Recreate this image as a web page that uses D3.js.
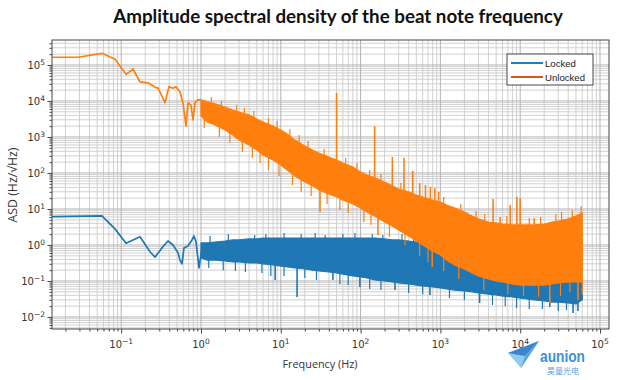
<!DOCTYPE html>
<html><head><meta charset="utf-8">
<script src="https://cdn.jsdelivr.net/npm/d3@7"></script>
<style>body{margin:0;background:#fff}svg{display:block}</style>
</head><body><svg id="c" width="618" height="380"></svg>
<script>
// ---------------- data ----------------
const seriesNames = ["Locked", "Unlocked"];

// low-frequency part (individual points)
const unlockedLowFreq = [0.0136,0.0288,0.0574,0.0836,0.115,0.141,0.172,0.217,0.273,0.289,0.354,0.397,0.446,0.486,0.545,0.595,0.649,0.687,0.749,0.794,0.841,0.917,1.0];
const unlockedLowASD  = [1.64e5,1.64e5,2.11e5,1.44e5,5.5e4,7.6e4,3.4e4,3.2e4,2.34e4,2.3e4,9.0e3,2.5e4,2.25e4,2.5e4,1.8e4,8.8e3,2.0e3,8.8e3,7.7e3,3.0e3,9.0e3,1.07e4,1.07e4];
const lockedLowFreq = [0.0136,0.0574,0.0836,0.115,0.172,0.2296,0.265,0.334,0.386,0.446,0.515,0.545,0.578,0.612,0.687,0.771,0.817,0.866,0.944,1.03];
const lockedLowASD  = [6.1,6.4,2.8,1.11,1.70,0.65,0.46,0.90,1.29,1.0,0.61,0.38,0.30,0.83,0.94,1.38,1.78,1.24,0.23,0.83];

// noisy part: upper / lower envelope of the dense spectrum
const bandFreq = [1,1.2,1.5,2,2.5,3,4,5,6,8,10,12,15,20,25,30,40,50,60,80,100,120,150,200,250,300,400,500,600,800,1e3,1.2e3,1.5e3,2e3,2.5e3,3e3,4e3,5e3,6e3,8e3,1e4,1.2e4,1.5e4,2e4,2.5e4,3e4,4e4,5e4,6e4];
const unlockedUpper = [1.07e4,9.4e3,8.3e3,6.8e3,5.6e3,4.95e3,4.1e3,3.16e3,2.61e3,2.02e3,1.56e3,1.21e3,825,562,435,359,278,230,190,147,107,88,73,56,44,36,30,24.5,21.5,17.8,15.6,12.9,10.7,8.25,6.4,5.3,4.35,4.1,3.83,3.6,3.6,3.6,3.6,3.83,4.35,4.6,5.3,6.4,7.74];
const unlockedLower = [3.83e3,2.61e3,2.15e3,1.56e3,1.14e3,825,600,435,316,230,167,121,83,56,44,34,26,21.5,17.8,13.8,10.7,8.25,6.4,4.35,3.37,2.61,1.78,1.29,1.0,0.68,0.53,0.38,0.28,0.215,0.167,0.138,0.114,0.1,0.094,0.083,0.077,0.077,0.077,0.077,0.083,0.088,0.094,0.094,0.094];
const lockedUpper = [1.14,1.14,1.21,1.29,1.38,1.38,1.47,1.47,1.56,1.56,1.56,1.56,1.56,1.56,1.56,1.56,1.56,1.56,1.56,1.56,1.56,1.56,1.56,1.47,1.38,1.38,1.29,1.21,1.14,1.0,0.88,0.77,0.64,0.495,0.41,0.36,0.30,0.245,0.215,0.19,0.167,0.147,0.138,0.121,0.114,0.107,0.1,0.094,0.088];
const lockedLower = [0.435,0.38,0.38,0.36,0.337,0.337,0.316,0.316,0.30,0.28,0.26,0.245,0.23,0.215,0.2,0.19,0.178,0.167,0.156,0.138,0.129,0.121,0.107,0.1,0.094,0.088,0.083,0.077,0.0726,0.068,0.064,0.06,0.056,0.053,0.05,0.0464,0.043,0.041,0.038,0.036,0.0336,0.0316,0.03,0.028,0.026,0.026,0.0245,0.023,0.03];

// short noise needles sticking out of each band (frequency, extreme value)
const unlockedUpNeedleFreq = [1.35,1.8,2.8,3.5,4.6,7,9,13,17,22,35,65,90,130,180,320,1100,1800,2800,3600,6800,13000,18000,28000,33000,45000,58000];
const unlockedUpNeedleASD  = [1.29e4,1.0e4,7.7e3,6.4e3,5.3e3,3.4e3,2.8e3,1.67e3,1.14e3,774,464,261,190,121,94,53,21.5,13.8,8.8,7.3,6.4,5.6,6.0,7.3,8.25,9.4,12.1];
const unlockedDownNeedleFreq = [1.1,1.7,2.3,3.3,4.4,5.5,7,9.5,14,18,24,38,55,70,110,135,230,360,550,700,1100,1700,3500,7000,11000,17000,32000,42000,60000];
const unlockedDownNeedleASD  = [1.78e3,1.0e3,681,383,261,190,121,83,46,30,23,13.8,9.4,7.7,4.35,3.6,1.67,1.0,0.49,0.337,0.19,0.114,0.056,0.0435,0.038,0.036,0.038,0.049,0.043];
const lockedUpNeedleFreq = [1.3,2.2,4.7,6.5,11,18,27,36,60,85,140,190,330,460,650];
const lockedUpNeedleASD  = [1.78,2.02,1.9,2.02,2.15,2.02,2.15,1.9,2.02,2.15,2.02,1.9,2.02,1.78,1.56];
const lockedDownNeedleFreq = [1.25,1.9,2.7,3.6,5.8,7.5,11,20,28,55,70,130,180,400,600,1300,2000,4500,6500,9000,13000,19000,30000,38000];
const lockedDownNeedleASD  = [0.23,0.2,0.19,0.178,0.167,0.138,0.138,0.121,0.107,0.083,0.077,0.06,0.056,0.0464,0.043,0.0336,0.03,0.0215,0.02,0.0178,0.0167,0.0167,0.0147,0.0156];

// isolated spikes (mains harmonics etc.) and deep dips
const unlockedSpikeFreq = [50,150,250,350,450,550,650,750,850,950,4570,5600,7500,9100,10000,15000];
const unlockedSpikePeak = [1.67e4,2.0e3,278,261,114,53,46,41,38,30,19,6,12.9,21.5,20,5.6];
const unlockedDipFreq = [31,165,790,23500,53000];
const unlockedDipValue = [8.25,1.9,0.245,0.0245,0.03];
const lockedDipFreq = [8.5,16,45,98,270,740,3100,23500,46000,53000];
const lockedDipValue = [0.107,0.036,0.107,0.068,0.056,0.041,0.0245,0.019,0.013,0.0147];

const xMajorTicks = [1e-1,1e0,1e1,1e2,1e3,1e4,1e5];
const xTickExp = ["\u22121","0","1","2","3","4","5"];
const yMajorTicks = [1e-2,1e-1,1e0,1e1,1e2,1e3,1e4,1e5];
const yTickExp = ["\u22122","\u22121","0","1","2","3","4","5"];

// ---------------- chart ----------------
const colors = {Locked:"#1f77b4", Unlocked:"#ff7f0e"};
const legendColors = {Locked:"#1f7ec2", Unlocked:"#d9541e"};
const m = {l:52, r:609, t:40, b:329};
const svg = d3.select("#c");
svg.append("rect").attr("width",618).attr("height",380).attr("fill","#fff");

const x = d3.scaleLog().domain([0.01358, 1.297e5]).range([m.l, m.r]);
const y = d3.scaleLog().domain([4.64e-3, 4.94e5]).range([m.b, m.t]);

function minors(scale){
  const [a,b] = scale.domain(); const out=[];
  for(let e=-4;e<=6;e++) for(let k=2;k<=9;k++){const v=k*Math.pow(10,e); if(v>=a&&v<=b) out.push(v);}
  return out;
}
const xMinor = minors(x), yMinor = minors(y);

svg.append("defs").append("clipPath").attr("id","clip")
  .append("rect").attr("x",m.l).attr("y",m.t).attr("width",m.r-m.l).attr("height",m.b-m.t);

// grid
const grid = svg.append("g");
grid.selectAll(".gxm").data(xMinor).join("line")
  .attr("x1",d=>x(d)).attr("x2",d=>x(d)).attr("y1",m.t).attr("y2",m.b)
  .attr("stroke","#cccccc").attr("stroke-width",0.9);
grid.selectAll(".gym").data(yMinor).join("line")
  .attr("y1",d=>y(d)).attr("y2",d=>y(d)).attr("x1",m.l).attr("x2",m.r)
  .attr("stroke","#cccccc").attr("stroke-width",0.9);
grid.selectAll(".gxM").data(xMajorTicks).join("line")
  .attr("x1",d=>x(d)).attr("x2",d=>x(d)).attr("y1",m.t).attr("y2",m.b)
  .attr("stroke","#b4b4b4").attr("stroke-width",1);
grid.selectAll(".gyM").data(yMajorTicks).join("line")
  .attr("y1",d=>y(d)).attr("y2",d=>y(d)).attr("x1",m.l).attr("x2",m.r)
  .attr("stroke","#b4b4b4").attr("stroke-width",1);

const plot = svg.append("g").attr("clip-path","url(#clip)");
const line = d3.line().x(d=>x(d[0])).y(d=>y(d[1]));
const area = d3.area().x(d=>x(d[0])).y0(d=>y(d[1])).y1(d=>y(d[2]));

function drawSeries(s){
  const c = colors[s.name];
  const g = plot.append("g");
  g.append("path").datum(s.lowF.map((f,i)=>[f,s.lowV[i]]))
    .attr("d",line).attr("fill","none").attr("stroke",c).attr("stroke-width",1.7).attr("stroke-linejoin","round");
  g.append("path").datum(bandFreq.map((f,i)=>[f,s.lo[i],s.up[i]]))
    .attr("d",area).attr("fill",c).attr("stroke",c).attr("stroke-width",1.2).attr("stroke-linejoin","round");
  // band middle at the nearest band frequency, used as the root of needles
  const mid = f => { const i = Math.min(bandFreq.length-1, d3.bisectLeft(bandFreq, f)); return Math.sqrt(s.up[i]*s.lo[i]); };
  const needles = [];
  s.needles.forEach(([fs, vs, w]) => fs.forEach((f,i)=>needles.push([f, vs[i], w])));
  needles.forEach(([f,v,w])=>{
    g.append("path").datum([[f,mid(f)],[f,v]]).attr("d",line)
      .attr("stroke",c).attr("stroke-width",w).attr("fill","none");
  });
}
drawSeries({name:"Locked", lowF:lockedLowFreq, lowV:lockedLowASD, up:lockedUpper, lo:lockedLower,
  needles:[[lockedUpNeedleFreq,lockedUpNeedleASD,1.2],[lockedDownNeedleFreq,lockedDownNeedleASD,1.2],[lockedDipFreq,lockedDipValue,1.6]]});
drawSeries({name:"Unlocked", lowF:unlockedLowFreq, lowV:unlockedLowASD, up:unlockedUpper, lo:unlockedLower,
  needles:[[unlockedUpNeedleFreq,unlockedUpNeedleASD,1.2],[unlockedDownNeedleFreq,unlockedDownNeedleASD,1.2],
           [unlockedSpikeFreq,unlockedSpikePeak,1.6],[unlockedDipFreq,unlockedDipValue,1.6]]});

// frame
svg.append("rect").attr("x",m.l).attr("y",m.t).attr("width",m.r-m.l).attr("height",m.b-m.t)
  .attr("fill","none").attr("stroke","#444").attr("stroke-width",1);

// axes
const axCol = "#444";
function styleAxis(g){ g.select(".domain").remove(); g.selectAll("line").attr("stroke",axCol); g.selectAll("text").remove(); }
svg.append("g").attr("transform",`translate(0,${m.b})`).call(d3.axisBottom(x).tickValues(xMinor).tickSize(2.5).tickFormat("")).call(styleAxis);
svg.append("g").attr("transform",`translate(0,${m.b})`).call(d3.axisBottom(x).tickValues(xMajorTicks).tickSize(4.5).tickFormat("")).call(styleAxis);
svg.append("g").attr("transform",`translate(${m.l},0)`).call(d3.axisLeft(y).tickValues(yMinor).tickSize(2.5).tickFormat("")).call(styleAxis);
svg.append("g").attr("transform",`translate(${m.l},0)`).call(d3.axisLeft(y).tickValues(yMajorTicks).tickSize(4.5).tickFormat("")).call(styleAxis);

function powLabel(sel, exp){
  sel.append("tspan").text("10");
  sel.append("tspan").attr("dy","-0.5em").attr("font-size","7.5px").text(exp);
}
const tickFont = "'DejaVu Sans', sans-serif";
xMajorTicks.forEach((v,i)=>{
  const t = svg.append("text").attr("x",x(v)).attr("y",m.b+19).attr("text-anchor","middle")
    .attr("font-family",tickFont).attr("font-size","10px").attr("fill","#333");
  powLabel(t, xTickExp[i]);
});
yMajorTicks.forEach((v,i)=>{
  const t = svg.append("text").attr("x",m.l-7).attr("y",y(v)+4).attr("text-anchor","end")
    .attr("font-family",tickFont).attr("font-size","10px").attr("fill","#333");
  powLabel(t, yTickExp[i]);
});

// titles
function fitText(t, target){ const L=t.node().getComputedTextLength(); const fs=parseFloat(t.attr("font-size")); t.attr("font-size",(fs*target/L).toFixed(2)+"px"); }
const title = svg.append("text").attr("x",338).attr("y",23).attr("text-anchor","middle")
  .attr("font-family","Lato, 'Open Sans', sans-serif").attr("font-weight","bold").attr("font-size","17px").attr("fill","#111")
  .text("Amplitude spectral density of the beat note frequency");
fitText(title, 450);
const xl = svg.append("text").attr("x",320).attr("y",368).attr("text-anchor","middle")
  .attr("font-family","'Open Sans', sans-serif").attr("font-size","13px").attr("fill","#333").text("Frequency (Hz)");
fitText(xl, 75);
const yl = svg.append("text").attr("transform","translate(17,185) rotate(-90)").attr("text-anchor","middle")
  .attr("font-family","'Open Sans', sans-serif").attr("font-size","13px").attr("fill","#333").text("ASD (Hz/\u221AHz)");
fitText(yl, 75);

// legend
const lg = svg.append("g");
lg.append("rect").attr("x",507).attr("y",54).attr("width",86).attr("height",31)
  .attr("fill","#fff").attr("stroke","#333").attr("stroke-width",0.9);
seriesNames.forEach((n,i)=>{
  const yy = 63 + i*14;
  lg.append("line").attr("x1",511).attr("x2",543).attr("y1",yy).attr("y2",yy)
    .attr("stroke",legendColors[n]).attr("stroke-width",2);
  lg.append("text").attr("x",545).attr("y",yy+3.5).attr("font-family","'Liberation Sans', Arial, sans-serif")
    .attr("font-size","9.6px").attr("fill","#222").text(n);
});

// watermark logo
const wm = svg.append("g");
wm.append("polygon").attr("points","508,353 539,341 521,368").attr("fill","#8fcbef");
wm.append("polygon").attr("points","508,353 539,341 525,356").attr("fill","#3a86cc");
wm.append("polygon").attr("points","525,356 539,341 521,368").attr("fill","#5aa6e0");
wm.append("text").attr("x",540).attr("y",362).attr("font-family","'Liberation Sans', Arial, sans-serif")
  .attr("font-weight","bold").attr("font-size","17px").attr("fill","#3d8fd6")
  .attr("textLength",45).attr("lengthAdjust","spacingAndGlyphs").text("aunion");
wm.append("text").attr("x",563).attr("y",374).attr("text-anchor","middle")
  .attr("font-family","'Noto Sans CJK SC', sans-serif").attr("font-size","8px").attr("fill","#5aa0e0").text("昊量光电");
</script></body></html>
